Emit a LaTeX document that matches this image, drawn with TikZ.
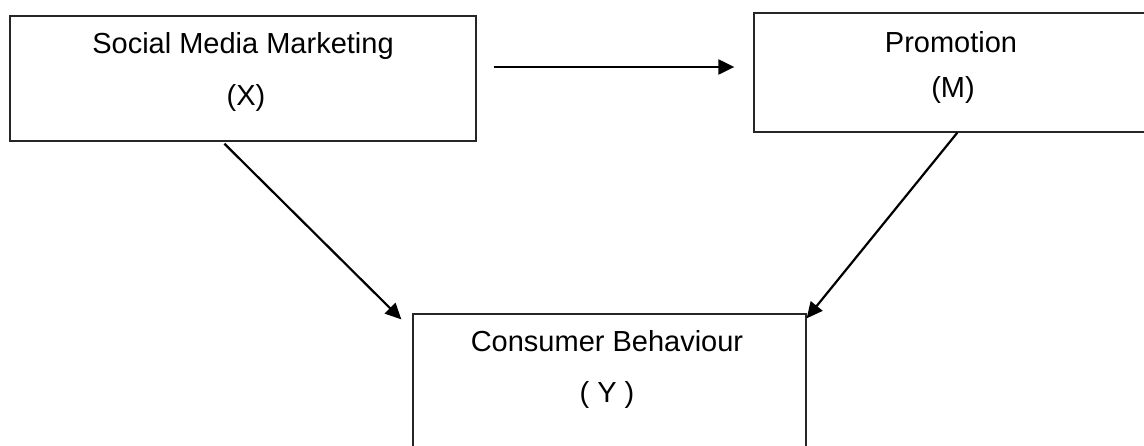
\documentclass[tikz,border=0pt]{standalone}
\usepackage{fontspec}
\setmainfont{Liberation Sans}
\usetikzlibrary{arrows.meta,calc}
\begin{document}
\begin{tikzpicture}[x=1pt,y=-1pt,
  box/.style={draw=black!85, line width=1.3pt, rectangle, inner sep=0pt},
  lbl/.style={anchor=base, inner sep=0pt, font=\fontsize{29}{34}\selectfont},
  conn/.style={line width=2.2pt, -{Triangle[length=16pt,width=15pt]}}]
\useasboundingbox (0,0) rectangle (1144,445);
\node[box, minimum width=466pt, minimum height=125pt] (X) at (243,78.5) {};
\node[box, minimum width=394pt, minimum height=119pt] (M) at (951,72.5) {};
\node[box, minimum width=393pt, minimum height=160pt] (Y) at (609.5,394) {};
\node[lbl] (xt1) at (243,53) {Social Media Marketing};
\node[lbl] (xt2) at (246,105) {(X)};
\node[lbl] (mt1) at (951,52) {Promotion};
\node[lbl] (mt2) at (953,97) {(M)};
\node[lbl] (yt1) at (607,351) {Consumer Behaviour};
\node[lbl] (yt2) at (607,402) {( Y )};
\coordinate (h1) at ($(X.east)+(17,-11.5)$);
\coordinate (h2) at ($(M.west)+(-19,-5.5)$);
\coordinate (d1) at ($(X.south west)+(215,2)$);
\coordinate (d2) at ($(Y.north west)+(-11,6)$);
\coordinate (e1) at ($(M.south west)+(204,0)$);
\coordinate (e2) at ($(Y.north east)+(0,5)$);
\draw[conn] (h1) -- (h2);
\draw[conn] (d1) -- (d2);
\draw[conn] (e1) -- (e2);
\end{tikzpicture}
\end{document}
